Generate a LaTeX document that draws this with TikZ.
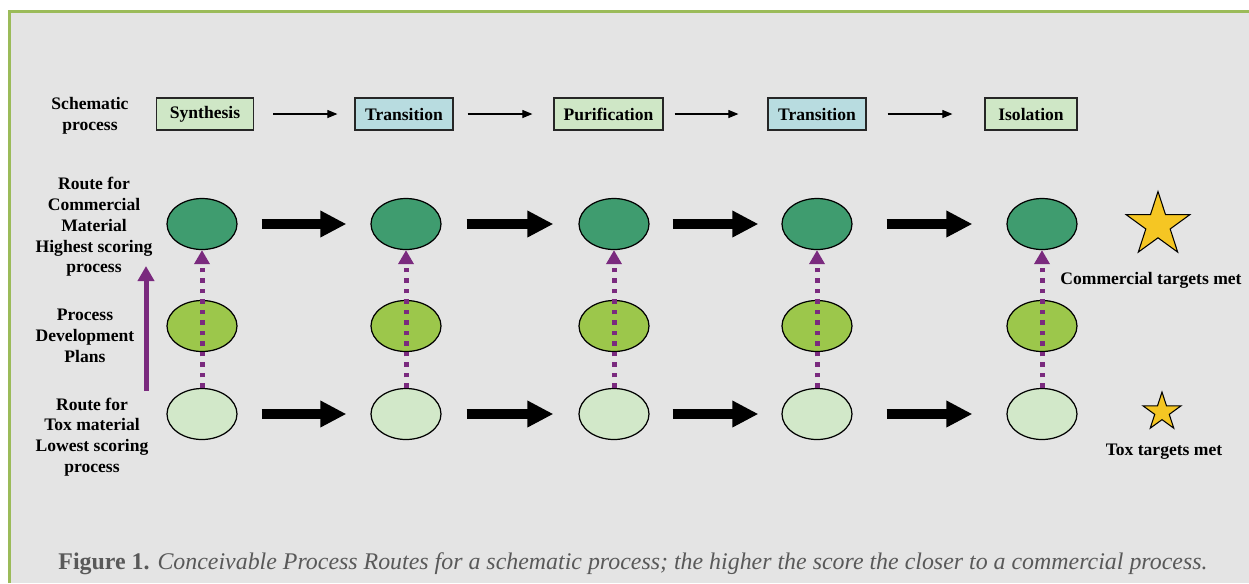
\documentclass[tikz,border=0pt]{standalone}
\usepackage{fontspec}
\setmainfont{Liberation Serif}
\usetikzlibrary{arrows.meta, positioning, shapes.geometric, calc}

\definecolor{bggray}{HTML}{E4E4E4}
\definecolor{frameolive}{HTML}{9BBB59}
\definecolor{boxgreen}{HTML}{CFE7C6}
\definecolor{boxblue}{HTML}{B8DCE0}
\definecolor{darkell}{HTML}{3F9C6F}
\definecolor{midell}{HTML}{9CC74B}
\definecolor{lightell}{HTML}{D2E8C9}
\definecolor{routepurple}{HTML}{7A2A7E}
\definecolor{stargold}{HTML}{F5C623}
\definecolor{capgray}{HTML}{595959}

\begin{document}
\begin{tikzpicture}[x=0.02cm, y=-0.02cm,
    lbl/.style={font=\fontsize{10}{11.8}\selectfont\bfseries, align=center},
    stage/.style={draw=black!85, line width=0.7pt, font=\fontsize{10}{12}\selectfont\bfseries, minimum height=0.64cm, inner xsep=0.1cm},
    route/.style={ellipse, draw=black, line width=0.7pt, minimum width=1.4cm, minimum height=1.02cm, inner sep=0pt},
    steparrow/.style={-{Triangle[length=0.2cm,width=0.16cm]}, line width=0.6pt},
    bigarrow/.style={-{Triangle[length=0.52cm,width=0.5cm]}, line width=0.19cm},
    lift/.style={routepurple, line width=0.1cm, dash pattern=on 0.09cm off 0.12cm, -{Triangle[length=0.28cm,width=0.3cm]}},
    goal/.style={star, star points=5, star point ratio=2.618, draw=black, line width=0.6pt, fill=stargold, inner sep=0pt},
]
\useasboundingbox (0,0) rectangle (1249,583);

% --- Panel
\fill[bggray] (9.5,11.5) rectangle (1249,583);
\draw[frameolive, line width=0.06cm] (9.5,583) -- (9.5,11.5) -- (1249,11.5);

% --- Schematic process row
\node[lbl] (schemlbl) at (90,116) {Schematic\\process};
\node[stage, fill=boxgreen, minimum width=1.94cm] (s1) at (205,114) {Synthesis};
\node[stage, fill=boxblue, minimum width=1.96cm] (s2) at (404,114) {Transition};
\node[stage, fill=boxgreen, minimum width=2.18cm] (s3) at (608.5,114) {Purification};
\node[stage, fill=boxblue, minimum width=1.96cm] (s4) at (817,114) {Transition};
\node[stage, fill=boxgreen, minimum width=1.84cm] (s5) at (1031,114) {Isolation};

\foreach \a/\b/\p/\q in {1/2/19/17, 2/3/14/21, 3/4/11/29, 4/5/21/32}{
  \draw[steparrow, shorten <=\p*0.02cm, shorten >=\q*0.02cm] (s\a) -- (s\b);
}

% --- Route ellipses
\foreach \x [count=\i] in {202,406,614,817,1042}{
  \node[route, fill=darkell] (top\i) at (\x,224) {};
  \node[route, fill=midell] (mid\i) at (\x,326) {};
  \node[route, fill=lightell] (low\i) at (\x,414) {};
  \draw[lift] (low\i.north) -- (top\i.south);
}

% Block arrows along both routes
\foreach \a/\b/\s in {1/2/24, 2/3/25, 3/4/23, 4/5/34}{
  \draw[bigarrow, shorten <=\s*0.02cm, shorten >=\s*0.02cm] (top\a) -- (top\b);
  \draw[bigarrow, shorten <=\s*0.02cm, shorten >=\s*0.02cm] (low\a) -- (low\b);
}

% --- Row labels
\node[lbl] (commlbl) at (94,227) {Route for\\Commercial\\Material\\Highest scoring\\process};
\node[lbl] (devlbl) at (85,336) {Process\\Development\\Plans};
\node[lbl] (toxlbl) at (92,437) {Route for\\Tox material\\Lowest scoring\\process};

% Development direction
\coordinate (liftfoot) at (146,391);
\coordinate (lifthead) at (146,266);
\draw[routepurple, line width=0.1cm, -{Triangle[length=0.3cm,width=0.32cm]}] (liftfoot) -- (lifthead);

% --- Targets
\node[goal, minimum size=1.34cm] (commstar) at (1158,225) {};
\node[lbl] (commgoal) at (1151,280) {Commercial targets met};
\node[goal, minimum size=0.8cm] (toxstar) at (1162,412) {};
\node[lbl] (toxgoal) at (1164,452) {Tox targets met};

% --- Caption
\node[font=\fontsize{13.6}{15}\selectfont, text=capgray] (caption) at (633,564)
  {\textbf{Figure 1.} \textit{Conceivable Process Routes for a schematic process; the higher the score the closer to a commercial process.}};

\end{tikzpicture}
\end{document}
